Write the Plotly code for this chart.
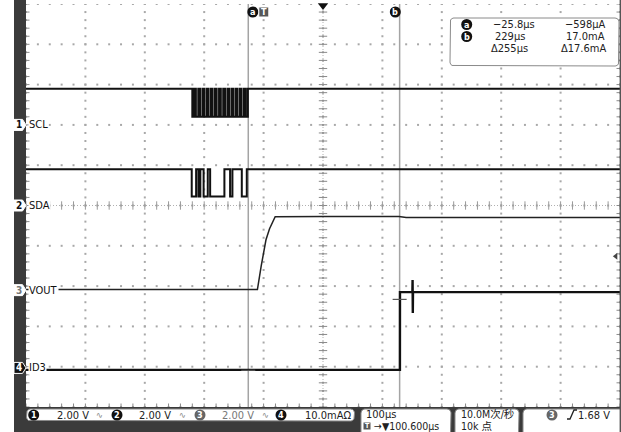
import numpy as np
import plotly.graph_objects as go

# ---------------- data ----------------
time_range_us = [-400, 600]            # 100 us/div, 10 div, centre = 100.6 us
div_range = [0, 10]
cursor_a_us, cursor_b_us = -25.8, 229.0
cursor_a_ma, cursor_b_ma = -0.598, 17.0
trigger_level_v = 1.68

scl_gnd_div, scl_v_per_div = 7.0, 2.0
sda_gnd_div, sda_v_per_div = 5.0, 2.0
vout_gnd_div, vout_v_per_div = 2.9, 2.0
id3_gnd_div, id3_ma_per_div = 0.97, 10.0

scl_t = [-400, -120,
         -117, -114, -110, -107, -103, -100, -96, -93, -89, -86, -82, -79, -75, -72,
         -68, -65, -61, -58, -54, -51, -47, -44, -40, -37, -33, -30,
         -26.5, 600]
scl_v = [1.8, 0.4,
         1.8, 0.4, 1.8, 0.4, 1.8, 0.4, 1.8, 0.4, 1.8, 0.4, 1.8, 0.4, 1.8, 0.4,
         1.8, 0.4, 1.8, 0.4, 1.8, 0.4, 1.8, 0.4, 1.8, 0.4, 1.8, 0.4,
         1.8, 1.8]

sda_t = [-400, -121, -113.6, -109.7, -106.5, -101, -94, -90, -66, -56.4, -52.5, -36.7, -28.3, 600]
sda_v = [1.8, 0.45, 1.8, 0.45, 1.8, 0.45, 1.8, 0.45, 1.8, 0.45, 1.8, 0.45, 1.8, 1.8]

vout_t = [-400, -10.4, -4, 4, 10, 14, 17, 19.5, 100, 228, 240, 600]
vout_v = [0.03, 0.03, 1.2, 2.5, 3.05, 3.3, 3.5, 3.64, 3.66, 3.65, 3.6, 3.61]

id3_t = [-400, 229.5, 229.6, 250.5, 250.8, 251.2, 251.5, 600]
id3_ma = [-0.5, -0.5, 18.8, 18.8, 21.8, 13.6, 18.8, 18.8]

channel_names = ["SCL", "SDA", "VOUT", "ID3"]
channel_scales = ["2.00 V", "2.00 V", "2.00 V", "10.0mAΩ"]
timebase_txt = "100µs"
delay_txt = "100.600µs"
sample_rate_txt = "10.0M次/秒"
record_len_txt = "10k 点"

# ---------------- geometry ----------------
W, H = 621, 432
PX_L, PX_R, PX_T, PX_B = 26, 620, 4, 407
FONT = "Liberation Sans Narrow, DejaVu Sans Condensed, Liberation Sans, Noto Sans CJK SC, sans-serif"


def to_div(vals, gnd, per_div):
    return [gnd + v / per_div for v in vals]


def div_to_px(d):
    return PX_B - d * (PX_B - PX_T) / 10.0


def rrect(x0, y0, x1, y1, r, n=7):
    xs, ys = [], []
    for cx, cy, a0, a1 in [(x1 - r, y0 + r, -90, 0), (x1 - r, y1 - r, 0, 90),
                           (x0 + r, y1 - r, 90, 180), (x0 + r, y0 + r, 180, 270)]:
        for a in np.linspace(a0, a1, n):
            xs.append(cx + r * np.cos(np.radians(a)))
            ys.append(cy + r * np.sin(np.radians(a)))
    xs.append(xs[0]); ys.append(ys[0])
    return xs, ys


fig = go.Figure()

# ---------------- graticule ----------------
xmaj = np.linspace(time_range_us[0], time_range_us[1], 11)
xmin = np.linspace(time_range_us[0], time_range_us[1], 51)
ymaj = np.linspace(div_range[0], div_range[1], 11)
ymin = np.linspace(div_range[0], div_range[1], 51)
gx, gy = [], []
for xm in xmaj:
    gx += [xm] * len(ymin); gy += list(ymin)
for ym in ymaj:
    gx += list(xmin); gy += [ym] * len(xmin)
fig.add_trace(go.Scatter(x=gx, y=gy, mode="markers",
                         marker=dict(symbol="square", size=2, color="#a8a8a8"),
                         hoverinfo="skip"))
xc = (time_range_us[0] + time_range_us[1]) / 2
yc = (div_range[0] + div_range[1]) / 2
fig.add_trace(go.Scatter(x=[xc] * len(ymin), y=list(ymin), mode="markers",
                         marker=dict(symbol="line-ew", size=6, line=dict(width=1, color="#8a8a8a")),
                         hoverinfo="skip"))
fig.add_trace(go.Scatter(x=list(xmin), y=[yc] * len(xmin), mode="markers",
                         marker=dict(symbol="line-ns", size=6, line=dict(width=1, color="#9a9a9a")),
                         hoverinfo="skip"))
for xe in (time_range_us[0], time_range_us[1]):
    fig.add_trace(go.Scatter(x=[xe] * len(ymin), y=list(ymin), mode="markers",
                             marker=dict(symbol="line-ew", size=5, line=dict(width=1, color="#8a8a8a")),
                             hoverinfo="skip"))
fig.add_trace(go.Scatter(x=list(xmin), y=[div_range[0]] * len(xmin), mode="markers",
                         marker=dict(symbol="line-ns", size=5, line=dict(width=1, color="#8a8a8a")),
                         hoverinfo="skip"))

# ---------------- waveforms ----------------
fig.add_trace(go.Scatter(x=scl_t, y=to_div(scl_v, scl_gnd_div, scl_v_per_div), mode="lines",
                         line=dict(shape="hv", color="#111", width=2.0), hoverinfo="skip"))
fig.add_trace(go.Scatter(x=sda_t, y=to_div(sda_v, sda_gnd_div, sda_v_per_div), mode="lines",
                         line=dict(shape="hv", color="#111", width=2.0), hoverinfo="skip"))
fig.add_trace(go.Scatter(x=vout_t, y=to_div(vout_v, vout_gnd_div, vout_v_per_div), mode="lines",
                         line=dict(color="#222", width=1.5), hoverinfo="skip"))
fig.add_trace(go.Scatter(x=id3_t, y=to_div(id3_ma, id3_gnd_div, id3_ma_per_div), mode="lines",
                         line=dict(color="#111", width=2.4), hoverinfo="skip"))

# cursor crossing marks
fig.add_trace(go.Scatter(x=[cursor_a_us, cursor_b_us],
                         y=to_div([cursor_a_ma, cursor_b_ma], id3_gnd_div, id3_ma_per_div),
                         mode="markers",
                         marker=dict(symbol="line-ew", size=10, line=dict(width=1.2, color="#555")),
                         hoverinfo="skip"))
# horizontal position marker and trigger level marker
fig.add_trace(go.Scatter(x=[xc], y=[9.96], mode="markers", cliponaxis=False,
                         marker=dict(symbol="triangle-down", size=9, color="#111"), hoverinfo="skip"))
fig.add_trace(go.Scatter(x=[593], y=to_div([trigger_level_v], vout_gnd_div, vout_v_per_div),
                         mode="markers", cliponaxis=False,
                         marker=dict(symbol="triangle-left", size=6, color="#444"), hoverinfo="skip"))

shapes = []
# centre lines (dotted)
shapes.append(dict(type="line", xref="x", yref="y", x0=xc, x1=xc, y0=div_range[0], y1=div_range[1],
                   line=dict(color="#b0b0b0", width=1, dash="1px,2px"), layer="below"))
shapes.append(dict(type="line", xref="x", yref="y", x0=time_range_us[0], x1=time_range_us[1], y0=yc, y1=yc,
                   line=dict(color="#b0b0b0", width=1, dash="1px,2px"), layer="below"))
# cursors
for ct in (cursor_a_us, cursor_b_us):
    shapes.append(dict(type="line", xref="x", yref="y", x0=ct, x1=ct, y0=div_range[0], y1=div_range[1],
                       line=dict(color="#a4a4a4", width=1.5), layer="below"))
# dark frame strips
shapes.append(dict(type="rect", xref="x2", yref="y2", x0=14, x1=26, y0=0, y1=432,
                   fillcolor="#3b3b3b", line=dict(width=0), layer="below"))
shapes.append(dict(type="rect", xref="x2", yref="y2", x0=14, x1=621, y0=407, y1=432,
                   fillcolor="#3b3b3b", line=dict(width=0), layer="below"))
shapes.append(dict(type="line", xref="x2", yref="y2", x0=620.3, x1=620.3, y0=0, y1=432,
                   line=dict(color="#555", width=1.4), layer="above"))
# rising edge icon (trigger box)
shapes.append(dict(type="path", xref="x2", yref="y2", path="M567,419 L570,419 L574,410 L577,410",
                   line=dict(color="#222", width=1.3), layer="above"))

# ---------------- boxes (pixel space) ----------------
for (x0, y0, x1, y1) in [(450, 18, 619, 66), (26.5, 409, 354.5, 421), (361, 409, 451, 438),
                         (455, 409, 519, 438), (523, 409, 624, 438)]:
    bx, by = rrect(x0, y0, x1, y1, 4)
    fig.add_trace(go.Scatter(x=bx, y=by, xaxis="x2", yaxis="y2", mode="lines", fill="toself",
                             fillcolor="white", line=dict(color="#8a8a8a", width=1), hoverinfo="skip"))

# channel badges
ann = []
badge_y = [div_to_px(g) for g in (scl_gnd_div, sda_gnd_div, vout_gnd_div, id3_gnd_div)]
for i, (name, py) in enumerate(zip(channel_names, badge_y)):
    dark = (i == 3)
    shapes.append(dict(type="path", xref="x2", yref="y2",
                       path=f"M14,{py-5.5} L22.5,{py-5.5} L26,{py} L22.5,{py+5.5} L14,{py+5.5} Z",
                       fillcolor="#111" if dark else "white", line=dict(color="white", width=1),
                       layer="above"))
    ann.append(dict(x=18.5, y=py, xref="x2", yref="y2", text=f"<b>{i+1}</b>", showarrow=False,
                    font=dict(family=FONT, size=10, color="white" if dark else ("#777" if i == 2 else "#111"))))
    ann.append(dict(x=27.5, y=py, xref="x2", yref="y2", text=name, showarrow=False, xanchor="left",
                    yanchor="middle", bgcolor="white", borderpad=0,
                    font=dict(family=FONT, size=11, color="#111")))

# circles (cursor labels, measurement labels, channel numbers)
circ = [(252.8, 12, "a", "#111"), (395.3, 12, "b", "#111"),
        (466.7, 24.5, "a", "#111"), (466.7, 36.5, "b", "#111"),
        (33.7, 415, "1", "#111"), (117, 415, "2", "#111"), (200, 415, "3", "#666"),
        (281, 415, "4", "#111"), (552, 415, "3", "#666")]
fig.add_trace(go.Scatter(x=[c[0] for c in circ], y=[c[1] for c in circ], xaxis="x2", yaxis="y2",
                         mode="markers", marker=dict(symbol="circle", size=11, color=[c[3] for c in circ]),
                         hoverinfo="skip", cliponaxis=False))
for cx, cy, t, _ in circ:
    ann.append(dict(x=cx, y=cy, xref="x2", yref="y2", text=f"<b>{t}</b>", showarrow=False,
                    font=dict(family=FONT, size=9, color="white")))
# trigger "T" square
fig.add_trace(go.Scatter(x=[263.8, 367], y=[12, 426], xaxis="x2", yaxis="y2", mode="markers",
                         marker=dict(symbol="square", size=[10, 8], color="#111"), hoverinfo="skip"))
ann.append(dict(x=263.8, y=12, xref="x2", yref="y2", text="<b>T</b>", showarrow=False,
                font=dict(family=FONT, size=9, color="white")))
ann.append(dict(x=367, y=426, xref="x2", yref="y2", text="<b>T</b>", showarrow=False,
                font=dict(family=FONT, size=7, color="white")))


def txt(x, y, s, anchor="left", color="#222", size=11):
    ann.append(dict(x=x, y=y, xref="x2", yref="y2", text=s, showarrow=False, xanchor=anchor,
                    yanchor="middle", font=dict(family=FONT, size=size, color=color)))


# measurement readouts
d_t = cursor_b_us - cursor_a_us
d_i = cursor_b_ma - cursor_a_ma
txt(491, 24.5, f"−{abs(cursor_a_us):.1f}µs")
txt(607, 24.5, f"−{abs(cursor_a_ma) * 1000:.0f}µA", "right")
txt(493, 36.5, f"{cursor_b_us:.0f}µs")
txt(607, 36.5, f"{cursor_b_ma:.1f}mA", "right")
txt(489, 48.5, f"Δ{d_t:.0f}µs")
txt(608, 48.5, f"Δ{d_i:.1f}mA", "right")

# bottom status bar
txt(55, 415, channel_scales[0])
txt(137, 415, channel_scales[1])
txt(220, 415, channel_scales[2], color="#777")
txt(303, 415, channel_scales[3])
for bxp in (99, 182, 265):
    txt(bxp, 415, "∿", "center", "#888", 9)
txt(364, 414, timebase_txt)
txt(371.5, 425.5, "→▼" + delay_txt, size=10.5)
txt(459, 414, sample_rate_txt, size=10.5)
txt(459, 425.5, record_len_txt, size=10.5)
txt(612, 415, f"{trigger_level_v:.2f} V", "right")

fig.update_layout(
    width=W, height=H, margin=dict(l=0, r=0, t=0, b=0),
    paper_bgcolor="white", plot_bgcolor="rgba(0,0,0,0)", showlegend=False, hovermode=False,
    xaxis=dict(domain=[PX_L / W, PX_R / W], range=time_range_us, visible=False, fixedrange=True),
    yaxis=dict(domain=[(H - PX_B) / H, (H - PX_T) / H], range=div_range, visible=False, fixedrange=True),
    xaxis2=dict(domain=[0, 1], range=[0, W], visible=False, anchor="y2", fixedrange=True),
    yaxis2=dict(domain=[0, 1], range=[H, 0], visible=False, anchor="x2", fixedrange=True),
    shapes=shapes, annotations=ann,
)
fig.write_html("out.html", config={"displayModeBar": False},
               post_script="document.body.style.margin='0';document.body.style.overflow='hidden';")
